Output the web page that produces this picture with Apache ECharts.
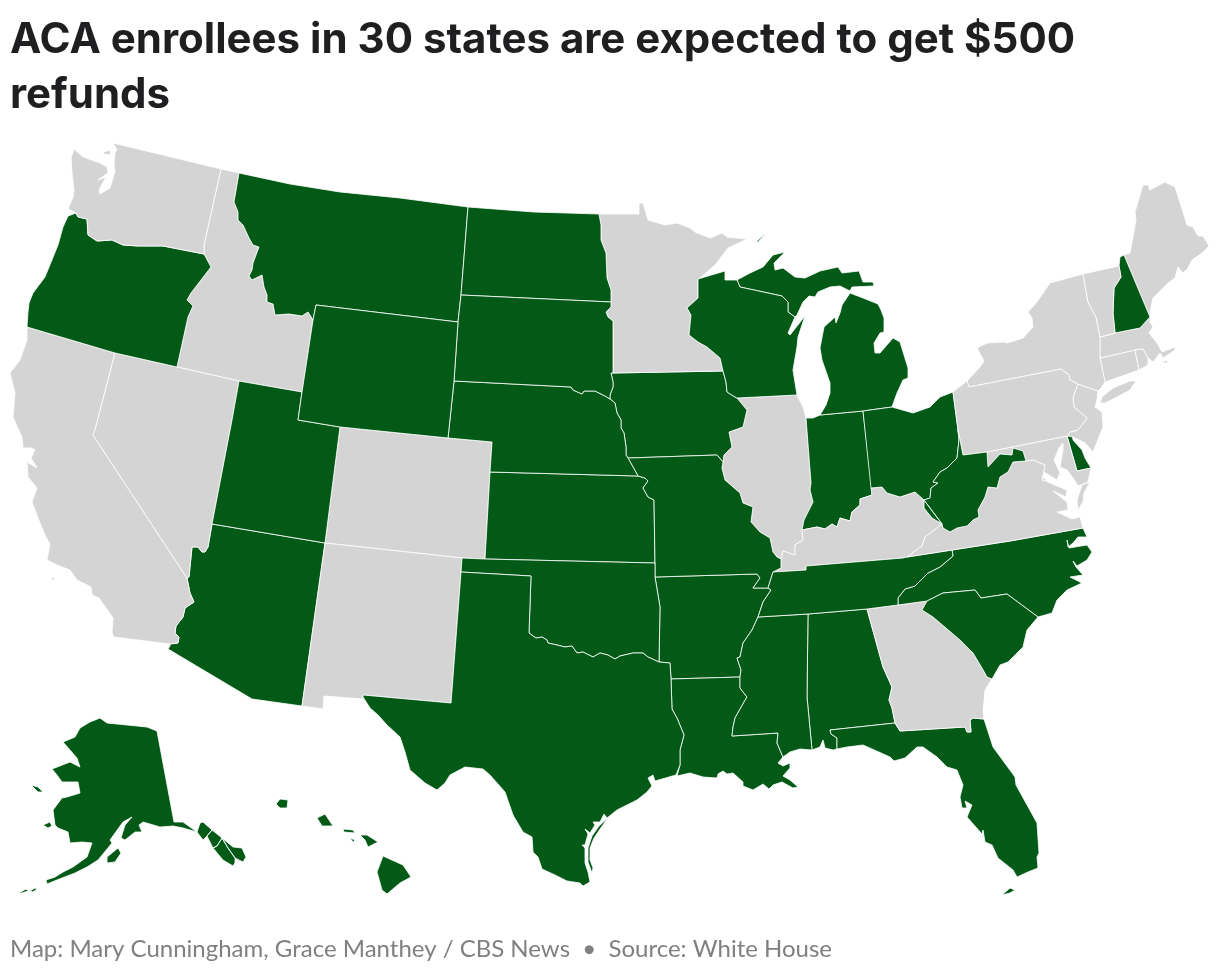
<!DOCTYPE html>
<html>
<head>
<meta charset="utf-8">
<style>html,body{margin:0;padding:0;background:#fff}#main{width:1220px;height:976px}</style>
<script src="https://cdn.jsdelivr.net/npm/echarts@6/dist/echarts.min.js"></script>
</head>
<body>
<div id="main"></div>
<script>
var titleText = 'ACA enrollees in 30 states are expected to get $500\nrefunds';
var footText = 'Map: Mary Cunningham, Grace Manthey / CBS News  \u2022  Source: White House';

var stateNames = ['AL','AK','AZ','AR','CA','CO','CT','DE','FL','GA','HI','ID','IL','IN','IA','KS','KY','LA','ME','MD','MA','MI','MN','MS','MO','MT','NE','NV','NH','NJ','NM','NY','NC','ND','OH','OK','OR','PA','RI','SC','SD','TN','TX','UT','VT','VA','WA','WV','WI','WY'];
var refundStates = ['AL','AK','AZ','AR','DE','FL','HI','IN','IA','KS','LA','MI','MS','MO','MT','NE','NH','NC','ND','OH','OK','OR','SC','SD','TN','TX','UT','WV','WI','WY'];

// 共用边界，每条只写一次
var b = {
  waid: '221,169 204,245 204,254',
  waor: '204,254 163,246 138,246 123,245 112,240 97,241 88,235 87,219 78,217 76,213',
  orid: '204,254 211,267 191,293 187,300 193,306 188,317 177,367',
  orca: '27,327 115,353',
  ornv: '115,353 177,367',
  idnv: '177,367 239,381',
  idut: '239,381 302,392',
  idwy: '302,392 313,320',
  idmt: '239,173 234,202 238,212 238,220 243,225 249,238 253,245 259,247 253,263 252,270 249,276 252,280 262,275 264,287 267,295 267,302 273,304 275,315 289,314 302,316 308,312 313,320',
  mtwy: '313,320 316,305 458,322',
  mtnd: '468,207 461,295',
  mtsd: '461,295 458,322',
  wysd: '458,322 454,381',
  wyne: '454,381 448,438',
  wyco: '340,427 448,438',
  wyut: '340,427 298,420 302,392',
  nvut: '239,381 232,420 212,524',
  nvaz: '212,524 208,547 205,552 202,552 198,547 192,547 189,577 187,578',
  nvca: '115,353 95,430 93,435 187,578',
  caaz: '187,578 190,593 194,602 185,608 183,617 176,626 175,633 179,637 178,643 170,644',
  utco: '340,427 325,543',
  utaz: '212,524 325,543',
  aznm: '325,543 302,706',
  conm: '325,543 462,558',
  cook: '462,558 485,559',
  coks: '485,559 490,472',
  cone: '448,438 492,442 490,472',
  nmok: '462,558 461,572',
  nmtx: '461,572 451,703 363,695',
  ndmn: '599,214 601,225 601,240 606,253 607,278 611,290 611,302',
  ndsd: '461,295 611,302',
  sdmn: '611,302 611,307 606,312 608,317 613,321 613,373',
  sdia: '611,373 613,382 613,387 610,395 610,399',
  nesd: '454,381 571,387 573,390 582,394 584,391 595,391 605,396 610,399',
  iane: '610,399 615,403 617,413 621,420 621,428 624,433 626,447 626,455 628,458',
  iamo: '628,458 717,455 723,462',
  iail: '737,398 747,410 743,427 729,432 732,447 724,455 723,462',
  nemo: '628,458 633,467 638,476',
  neks: '490,472 638,476',
  ksmo: '638,476 645,478 648,481 643,488 648,497 654,500 655,563',
  ksok: '485,559 655,563',
  okmo: '655,563 655,577',
  okar: '655,577 660,607 659,662',
  red: '529,633 533,636 536,638 542,637 547,640 548,643 557,645 565,647 572,646 577,653 583,652 593,657 600,653 608,655 615,659 620,656 633,653 643,653 648,657 659,662',
  artx: '659,662 670,663 671,679',
  arla: '671,679 740,677',
  txla: '671,679 672,709 677,718 684,735 680,750 680,765 676,775',
  moar: '655,577 757,574 760,578 753,588 768,588',
  motn: '768,588 773,572',
  moky: '773,572 781,568 781,559',
  moil: '781,559 777,557 773,552 770,538 760,532 751,522 753,507 743,503 740,493 725,480 722,468 723,462',
  artn: '768,588 771,590 763,602 758,617',
  arms: '758,617 752,630 743,643 740,657 737,658 741,670 740,677',
  lams: '740,677 740,688 747,697 744,702 735,718 733,727 732,736 778,733 777,743 783,757',
  tnnc: '898,605 898,598 905,589 915,586 928,573 940,567 953,556 952,550',
  tnky: '773,572 806,570 806,566 903,558 907,557',
  tnva: '907,557 952,550',
  kyva: '907,557 922,546 925,537 942,524',
  kywv: '942,524 932,518 924,508 924,500',
  kyoh: '924,500 915,492 900,497 887,493 882,487 871,488',
  kyin: '871,488 872,495 860,499 860,505 852,512 850,521 840,518 837,527 832,524 825,529 817,527 802,530',
  kyil: '802,530 803,540 795,545 795,555 783,551 781,559',
  ilin: '806,418 811,483 810,490 813,502 804,520 802,530',
  inoh: '863,411 872,487 871,488',
  inmi: '806,418 813,418 820,415 863,411',
  mioh: '863,411 892,407',
  ohwv: '958,430 959,440 957,458 947,468 940,472 933,482 938,483 931,488 930,498 924,500',
  ohpa: '953,392 958,430',
  wvmd: '987,452 988,467 1000,454 1012,455 1013,448 1023,451 1026,461',
  wvva: '1026,461 1013,462 1008,472 1000,477 997,488 988,487 985,497 978,510 979,517 973,520 967,526 957,528 950,532 943,528 942,524',
  nypa: '967,381 969,387 1061,369 1069,375 1070,380 1078,384',
  panj: '1078,384 1073,397 1074,407 1087,418 1078,430 1070,432 1067,436',
  pamd: '1067,436 987,452 963,455 958,430',
  nyvt: '1083,274 1088,302 1096,317 1100,337',
  nyma: '1100,337 1100,358',
  nyct: '1100,358 1105,382 1101,388',
  vtnh: '1119,266 1121,277 1114,288 1113,313 1115,333',
  mact: '1100,358 1135,350',
  mari: '1135,350 1143,349 1148,358 1148,365',
  ctri: '1135,350 1139,370',
  nhme: '1124,255 1150,317',
  nhma: '1150,317 1140,328 1115,333',
  mavt: '1115,333 1100,337',
  ncsc: '1038,617 1007,594 981,598 975,590 943,593 927,601',
  scga: '927,601 922,610 933,617 960,640 973,653 982,668 987,677 992,679',
  gafl: '895,723 900,731 965,727 967,732 971,732 970,720 973,718 984,719',
  gaal: '867,609 883,667 892,687 889,700 892,708 895,723',
  alfl: '895,723 830,730 831,734 837,738 837,749',
  alms: '808,614 807,697 812,750',
  vamd: '1026,461 1033,460 1045,465 1042,480 1048,482',
  ncva: '952,550 1010,541 1083,528',
  wimn: '698,279 698,298 687,308 691,315 689,335 698,342 707,347 720,358 723,371',
  mnia: '613,373 723,371',
  wiia: '737,398 735,397 727,392 726,382 723,371',
  wiil: '797,395 737,398',
  wimi: '737,280 740,287 782,296 788,302 788,312 795,317'
};

// 每个州的轮廓：名字是共用边界，- 表示反向，数字是海岸线
var shapes = {
  WA: [['113,143 221,169','waid','waor','68,209 73,197 74,190 72,173 71,158 74,149 83,157 100,163 107,167 108,173 98,180 106,177 99,190 100,194 110,188 115,172 114,163 115,153 117,150'],
       ['103,152 111,150 110,155 104,154']],
  OR: [['waor','68,216 63,227 58,245 45,277 33,293 29,303 28,312 27,327','orca','ornv','-orid']],
  CA: [['orca','nvca','caaz','114,637 112,633 113,618 99,598 92,595 91,587 77,580 70,570 57,565 47,560 50,544 45,535 40,523 32,502 37,488 28,477 27,462 37,468 31,458 35,450 32,448 23,448 22,437 15,422 13,417 15,393 10,373 20,360 27,340'],
       ['51,577 55,578 53,581']],
  NV: [['ornv','idnv','nvut','nvaz','-nvca']],
  ID: [['221,169 239,173','idmt','-idwy','-idut','-idnv','-orid','-waid']],
  MT: [['239,173 290,184 340,192 400,198 468,207','mtnd','mtsd','-mtwy','-idmt']],
  WY: [['mtwy','wysd','wyne','-wyco','wyut','idwy']],
  UT: [['idut','-wyut','utco','-utaz','-nvut']],
  AZ: [['utaz','aznm','252,699 168,649 170,646','-caaz','-nvaz']],
  CO: [['wyco','cone','-coks','-cook','-conm','-utco']],
  NM: [['conm','nmok','nmtx','363,699 324,696 323,709','-aznm']],
  ND: [['468,207 534,212','ndmn','-ndsd','-mtnd']],
  SD: [['ndsd','sdmn','sdia','-nesd','-wysd','-mtsd']],
  NE: [['nesd','iane','nemo','-neks','-cone','-wyne']],
  KS: [['neks','ksmo','-ksok','coks']],
  OK: [['cook','ksok','okmo','okar','-red','531,576','-nmok']],
  TX: [['461,572 531,576','red','artx','txla','655,781 653,775 648,778 652,786 647,792 637,800 617,810 607,818 604,814 600,822 593,822 595,825 590,833 585,829 588,834 585,845 582,845 585,848 585,863 588,872 590,882 583,886 580,883 567,881 555,875 542,869 538,857 533,852 532,837 523,832 513,815 505,792 490,775 483,769 465,767 450,775 445,783 437,790 425,783 410,770 405,752 400,737 387,725 378,715 370,708 363,697','-nmtx'],
       ['608,818 599,826 592,836 588,848 588,862 592,873 593,868 590,860 590,848 594,838 600,829']],
  MN: [['-ndmn','599,214 639,214 639,203 643,203 648,220 665,225 677,223 690,228 695,232 710,238 722,233 727,237 747,239 728,248 715,265 700,278','wimn','-mnia','-sdmn']],
  IA: [['611,373','mnia','-wiia','iail','-iamo','-iane','-sdia']],
  MO: [['iamo','-moil','-moky','-motn','-moar','-okmo','-ksmo','-nemo']],
  AR: [['moar','artn','arms','-arla','-artx','-okar']],
  LA: [['arla','lams','778,763 783,766 790,763 790,768 783,776 790,780 798,787 793,788 782,782 773,785 769,789 763,784 753,790 743,786 743,782 733,773 727,774 723,771 718,774 717,778 703,777 690,773 677,776','-txla']],
  WI: [['698,279 725,271 725,280','wimi','788,333 790,335 805,316 798,337 797,347 793,370','wiil','wiia','-wimn']],
  IL: [['737,398 797,395 803,407','ilin','kyil','moil','-iail']],
  IN: [['inmi','inoh','kyin','-ilin']],
  MI: [['737,280 750,273 763,267 773,255 785,252 774,263 775,270 783,268 795,277 805,278 820,271 838,267 842,273 859,271 863,282 873,282 874,286 852,287 850,291 840,286 830,287 818,292 815,297 809,296 803,302 797,315 795,317','-wimi'],
       ['863,411 820,415 826,405 830,393 830,383 822,360 820,348 824,327 835,317 836,323 840,313 842,305 850,293 863,298 878,304 881,310 884,318 884,332 880,333 874,343 875,353 880,353 893,338 900,342 908,368 908,378 903,380 897,393 892,407'],
       ['756,242 767,232 768,233 758,242']],
  OH: [['mioh','913,413 930,407 940,397','ohpa','ohwv','kyoh','-inoh']],
  KY: [['tnky','kyva','kywv','kyoh','kyin','kyil','-moky']],
  TN: [['tnky','tnva','-tnnc','867,609 808,614 758,617','-artn','motn']],
  MS: [['758,617 808,614','alms','800,749 790,752 783,757','-lams','-arms']],
  AL: [['808,614 867,609','gaal','alfl','833,750 825,748 823,740 820,747 812,750','-alms']],
  GA: [['867,609 898,605 927,601','scga','985,690 983,712 984,719','-gafl','-gaal']],
  FL: [['-alfl','gafl','993,747 1015,777 1016,785 1037,823 1039,853 1037,857 1038,868 1028,872 1017,877 1013,870 998,858 992,845 985,842 983,830 982,834 967,817 972,805 965,801 967,808 962,808 960,797 963,785 957,770 947,767 937,757 923,747 917,747 905,758 894,761 890,757 863,745 847,747'],
       ['1002,895 1010,888 1015,890 1010,893']],
  SC: [['ncsc','scga','1000,665 1008,662 1023,647 1027,630']],
  NC: [['ncva','1087,537 1078,537 1073,543 1068,547 1067,540 1069,548 1087,545 1092,552 1087,560 1077,566 1073,561 1076,567 1083,575 1070,577 1082,583 1067,590 1057,600 1052,613','ncsc','898,605','tnnc']],
  VA: [['tnva','ncva','1080,517 1072,519 1057,512 1068,510 1067,502 1053,491 1066,497 1067,490 1052,484','-vamd','wvva','-kyva'],
       ['1090,482 1082,485 1077,500 1078,510 1083,502 1084,493']],
  WV: [['958,430 963,455','wvmd','wvva','-kywv','-ohwv']],
  MD: [['wvmd','-vamd','1057,480 1060,473 1054,460 1059,448 1063,443 1063,450 1060,467 1067,470 1073,478 1078,486 1088,482 1091,468 1077,471 1067,436']],
  DE: [['1067,436 1072,433 1073,440 1082,450 1085,458 1091,468 1077,471']],
  PA: [['953,392','nypa','panj','pamd','-ohpa']],
  NJ: [['panj','1073,437 1085,443 1093,452 1103,427 1102,412 1095,407 1097,400 1098,391']],
  NY: [['967,381 980,367 984,361 977,348 987,343 1003,342 1007,343 1023,338 1033,327 1032,318 1028,312 1037,302 1050,283','nyvt','nyma','nyct','1098,391 1078,384','-nypa'],
       ['1100,403 1102,397 1113,388 1130,381 1136,381 1130,390 1117,397 1105,403']],
  VT: [['1083,274','1119,266','vtnh','mavt','-nyvt']],
  NH: [['1119,266 1120,257 1124,255','nhme','nhma','-vtnh']],
  ME: [['1124,255 1130,253 1136,220 1135,212 1143,185 1148,185 1150,190 1165,182 1175,187 1187,225 1193,227 1198,236 1203,236 1209,246 1202,253 1192,260 1188,268 1183,273 1178,267 1175,278 1168,283 1153,298 1150,313 1150,317','-nhme']],
  MA: [['mavt','-nhma','1150,322 1153,327 1149,333 1157,343 1162,352 1175,347 1175,350 1163,358 1160,353 1153,362 1148,358','-mari','-mact','-nyma'],
       ['1161,363 1167,360 1168,363']],
  CT: [['mact','ctri','1105,382','-nyct']],
  RI: [['mari','1139,370','-ctri']],
  AK: [['157,731 174,822 183,822 197,832 183,828 173,826 160,827 150,824 143,822 139,825 142,832 135,832 125,840 121,838 125,825 132,817 123,822 110,840 112,843 98,860 87,867 75,873 62,878 47,884 46,880 55,877 63,872 73,867 80,862 87,857 92,843 82,842 70,843 68,832 58,828 55,825 53,810 62,798 67,797 80,793 78,782 62,782 57,775 52,769 70,762 80,767 77,758 63,742 75,737 80,728 90,722 100,718 107,723 127,725 147,727'],
       ['197,832 200,823 203,822 212,830 207,836 203,840'],
       ['212,830 222,838 217,846 213,848 207,836'],
       ['222,838 233,847 242,848 246,857 243,862 235,858 228,848'],
       ['217,846 222,838 228,848 235,858 235,863 233,866 223,860 213,848'],
       ['107,857 118,848 121,853 115,862 107,863'],
       ['43,825 50,822 52,826 48,828'],
       ['31,785 38,787 43,792 38,792'],
       ['19,893 26,889 28,891 22,893'],
       ['30,891 35,888 37,889 33,892']],
  HI: [['383,856 403,865 411,877 400,883 387,894 382,890 377,872'],
       ['360,835 367,835 378,842 368,847 365,840'],
       ['343,829 353,830 355,833 344,832'],
       ['350,838 355,840 353,842'],
       ['317,818 325,814 333,826 322,826'],
       ['276,804 280,799 288,800 287,808 280,808']]
};

function chain(token) {
  var rev = token.charAt(0) === '-';
  var text = rev ? b[token.slice(1)] : (b[token] || token);
  var pts = text.split(' ').map(function (p) { return p.split(',').map(Number); });
  return rev ? pts.reverse() : pts;
}

function ring(tokens) {
  var pts = [];
  tokens.forEach(function (t) {
    chain(t).forEach(function (p) {
      var last = pts[pts.length - 1];
      if (!last || last[0] !== p[0] || last[1] !== p[1]) pts.push(p);
    });
  });
  pts.push(pts[0]);
  return pts;
}

var minX = 1e9, minY = 1e9, maxX = -1e9, maxY = -1e9;
var features = stateNames.map(function (name) {
  var polys = shapes[name].map(function (tokens) {
    var r = ring(tokens);
    r.forEach(function (p) {
      minX = Math.min(minX, p[0]); maxX = Math.max(maxX, p[0]);
      minY = Math.min(minY, p[1]); maxY = Math.max(maxY, p[1]);
    });
    return [r];
  });
  return { type: 'Feature', properties: { name: name }, geometry: { type: 'MultiPolygon', coordinates: polys } };
});

echarts.registerMap('usa', { type: 'FeatureCollection', features: features });

var myChart = echarts.init(document.getElementById('main'));
var option = {
  backgroundColor: '#ffffff',
  animation: false,
  title: [{
    text: titleText,
    left: 10,
    top: 13,
    padding: 0,
    textStyle: { fontFamily: 'Inter', fontWeight: 700, fontSize: 42, lineHeight: 55, color: '#1f1f21' }
  }, {
    text: footText,
    left: 10,
    top: 937,
    padding: 0,
    textStyle: { fontFamily: 'Lato', fontWeight: 400, fontSize: 24, color: '#808080' }
  }],
  visualMap: {
    show: false,
    type: 'piecewise',
    seriesIndex: 0,
    pieces: [{ value: 1, color: '#035a16' }, { value: 0, color: '#d4d4d4' }]
  },
  series: [{
    type: 'map',
    map: 'usa',
    silent: true,
    roam: false,
    projection: {
      project: function (p) { return p; },
      unproject: function (p) { return p; }
    },
    left: minX,
    top: minY,
    width: maxX - minX,
    height: maxY - minY,
    label: { show: false },
    itemStyle: { borderColor: '#ffffff', borderWidth: 0.8 },
    data: stateNames.map(function (n) {
      return { name: n, value: refundStates.indexOf(n) >= 0 ? 1 : 0 };
    })
  }]
};
myChart.setOption(option);
window.addEventListener('resize', function () {
  myChart.resize();
});
</script>
</body>
</html>
